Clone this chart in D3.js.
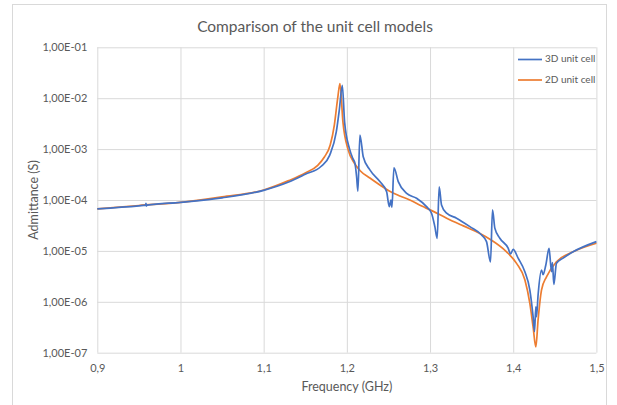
<!DOCTYPE html>
<html>
<head>
<meta charset="utf-8">
<script src="https://cdn.jsdelivr.net/npm/d3@7"></script>
<style>
  html, body { margin: 0; padding: 0; background: #fff; }
  svg { display: block; }
  text { font-family: Lato, "Open Sans", sans-serif; fill: #595959; }
</style>
</head>
<body>
<svg id="chart" width="617" height="405"></svg>
<script>
// Frequency sweep of the 3D unit cell model (GHz) and its admittance (S)
const freq3D = [0.90, 0.95, 0.958, 0.9585, 0.959, 0.96, 1.00, 1.05, 1.10, 1.13, 1.15, 1.1692, 1.1793, 1.1873, 1.191, 1.1945,
  1.1973, 1.2033, 1.2073, 1.2097, 1.2117, 1.2133, 1.2157, 1.2197, 1.2277, 1.2397, 1.2478, 1.251, 1.253, 1.2542, 1.2566,
  1.2618, 1.2719, 1.2838, 1.2958, 1.3018, 1.3058, 1.3086, 1.311, 1.3138, 1.3199, 1.3319, 1.3479, 1.362, 1.3679, 1.3727,
  1.3751, 1.3779, 1.3839, 1.3939, 1.3968, 1.3999, 1.4059, 1.414, 1.42, 1.4239, 1.4256, 1.4272, 1.428, 1.4299, 1.434,
  1.4359, 1.4392, 1.4431, 1.446, 1.4472, 1.4488, 1.452, 1.46, 1.472, 1.50];
const adm3D = [6.7e-5, 7.7e-5, 7.9e-5, 8.6e-5, 7.6e-5, 7.9e-5, 9.0e-5, 1.1e-4, 1.55e-4, 2.25e-4, 3.2e-4, 4.6e-4, 7.55e-4, 2.17e-3, 6.0e-3, 1.79e-2,
  3.4e-3, 1.0e-3, 6.5e-4, 5.3e-4, 2.9e-4, 1.5e-4, 1.89e-3, 7.1e-4, 3.9e-4, 2.3e-4, 1.46e-4, 7.4e-5, 1.0e-4, 7.2e-5, 4.3e-4,
  2.3e-4, 1.35e-4, 1.08e-4, 7.4e-5, 5.5e-5, 3.0e-5, 1.77e-5, 1.82e-4, 8.0e-5, 5.5e-5, 4.4e-5, 3.0e-5, 2.05e-5, 1.52e-5, 6.1e-6,
  6.4e-5, 2.8e-5, 1.77e-5, 1.13e-5, 8.7e-6, 1.07e-5, 7.2e-6, 3.9e-6, 1.7e-6, 5.1e-7, 2.6e-7, 8.0e-7, 5.1e-7, 1.36e-6, 4.2e-6,
  3.4e-6, 5.3e-6, 1.12e-5, 3.9e-6, 5.9e-6, 2.2e-6, 5.7e-6, 7.2e-6, 9.6e-6, 1.52e-5];

// Frequency sweep of the 2D unit cell model (GHz) and its admittance (S)
const freq2D = [0.90, 0.95, 1.00, 1.05, 1.10, 1.13, 1.15, 1.165, 1.173, 1.18, 1.185, 1.189, 1.1917, 1.1953, 1.2013, 1.2093,
  1.2157, 1.2277, 1.2397, 1.251, 1.2637, 1.2757, 1.29, 1.30, 1.32, 1.34, 1.36, 1.372, 1.392, 1.404, 1.414, 1.420, 1.4239,
  1.4272, 1.4299, 1.434, 1.440, 1.452, 1.472, 1.50];
const adm2D = [6.7e-5, 7.8e-5, 9.0e-5, 1.15e-4, 1.57e-4, 2.4e-4, 3.4e-4, 4.8e-4, 7.0e-4, 1.2e-3, 3.0e-3, 1.0e-2, 1.93e-2, 3.4e-3, 1.0e-3, 5.2e-4,
  3.8e-4, 2.7e-4, 1.97e-4, 1.5e-4, 1.2e-4, 1.0e-4, 7.6e-5, 6.4e-5, 4.4e-5, 3.1e-5, 2.2e-5, 1.7e-5, 9.6e-6, 5.7e-6, 2.7e-6, 9.3e-7, 3.2e-7,
  1.3e-7, 4.4e-7, 1.7e-6, 3.1e-6, 6.1e-6, 9.6e-6, 1.41e-5];

const seriesNames = ["3D unit cell", "2D unit cell"];
const seriesColors = ["#4472C4", "#ED7D31"];
const xTicks = [0.9, 1.0, 1.1, 1.2, 1.3, 1.4, 1.5];
const yTicks = [1e-7, 1e-6, 1e-5, 1e-4, 1e-3, 1e-2, 1e-1];

const svg = d3.select("#chart");
const plot = { left: 97.3, right: 596.4, top: 47.3, bottom: 352.7 };

// chart frame
svg.append("rect")
  .attr("x", 12.5).attr("y", 4.5).attr("width", 594).attr("height", 420)
  .attr("fill", "#fff").attr("stroke", "#D9D9D9").attr("stroke-width", 1);

const x = d3.scaleLinear().domain([0.9, 1.5]).range([plot.left, plot.right]);
const y = d3.scaleLog().domain([1e-7, 1e-1]).range([plot.bottom, plot.top]);

const fmtX = d => d3.format(".1~f")(d).replace(".", ",");
const fmtY = d => {
  const e = Math.round(Math.log10(d));
  return "1,00E" + (e < 0 ? "-" : "+") + String(Math.abs(e)).padStart(2, "0");
};

// vertical gridlines + x tick labels
const xAxis = svg.append("g")
  .attr("transform", `translate(0,${plot.bottom})`)
  .call(d3.axisBottom(x).tickValues(xTicks).tickSize(-(plot.bottom - plot.top)).tickFormat(fmtX).tickPadding(12));
xAxis.select(".domain").remove();
xAxis.selectAll("line").attr("stroke", "#D9D9D9");
xAxis.selectAll("text").attr("font-size", 11).style("fill", "#595959").attr("font-family", "Lato");

// horizontal gridlines + y tick labels
const yAxis = svg.append("g")
  .attr("transform", `translate(${plot.left},0)`)
  .call(d3.axisLeft(y).tickValues(yTicks).tickSize(-(plot.right - plot.left)).tickFormat(fmtY).tickPadding(10));
yAxis.select(".domain").remove();
yAxis.selectAll("line").attr("stroke", "#D9D9D9");
yAxis.selectAll("text").attr("font-size", 11).style("fill", "#595959").attr("font-family", "Lato");

// series lines
const line = d3.line()
  .x(d => x(d[0]))
  .y(d => y(d[1]))
  .curve(d3.curveMonotoneX);

const series = [
  d3.zip(freq3D, adm3D),
  d3.zip(freq2D, adm2D)
];
// 2D drawn first so the 3D line sits on top where they overlap
[1, 0].forEach(i => {
  svg.append("path")
    .datum(series[i])
    .attr("fill", "none")
    .attr("stroke", seriesColors[i])
    .attr("stroke-width", 1.7)
    .attr("stroke-linejoin", "round")
    .attr("d", line);
});

// title
svg.append("text")
  .attr("x", 315).attr("y", 28)
  .attr("text-anchor", "middle").attr("dominant-baseline", "middle")
  .attr("font-size", 15.5)
  .text("Comparison of the unit cell models");

// axis titles
svg.append("text")
  .attr("x", (plot.left + plot.right) / 2).attr("y", 388)
  .attr("text-anchor", "middle").attr("dominant-baseline", "middle")
  .attr("font-size", 12.5)
  .text("Frequency (GHz)");

svg.append("text")
  .attr("transform", `translate(35,${(plot.top + plot.bottom) / 2}) rotate(-90)`)
  .attr("text-anchor", "middle").attr("dominant-baseline", "middle")
  .attr("font-size", 12.5)
  .text("Admittance (S)");

// legend
const legend = svg.append("g");
seriesNames.forEach((name, i) => {
  const ly = 59.5 + i * 20.5;
  legend.append("line")
    .attr("x1", 518).attr("x2", 542).attr("y1", ly).attr("y2", ly)
    .attr("stroke", seriesColors[i]).attr("stroke-width", 1.7);
  legend.append("text")
    .attr("x", 545).attr("y", ly)
    .attr("dominant-baseline", "middle")
    .attr("font-size", 10)
    .text(name);
});
</script>
</body>
</html>
